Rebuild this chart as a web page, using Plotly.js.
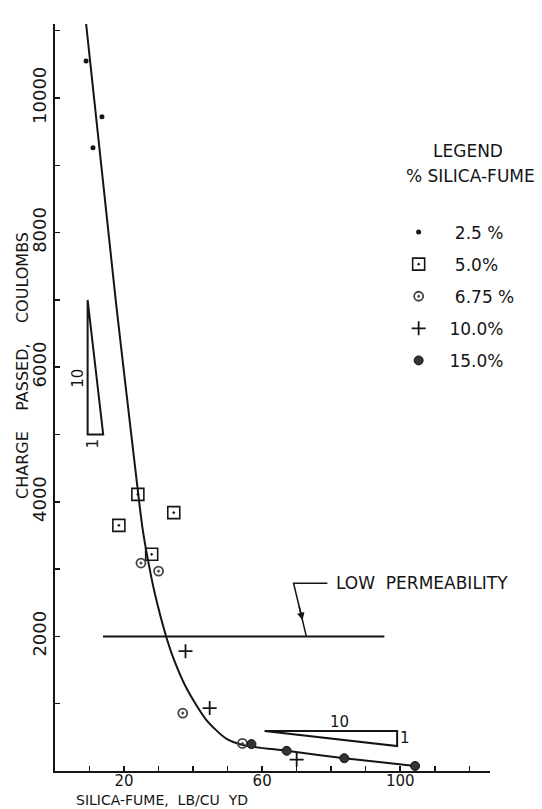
<!DOCTYPE html>
<html>
<head>
<meta charset="utf-8">
<script src="https://cdn.plot.ly/plotly-3.0.1.min.js"></script>
<style>html,body{margin:0;padding:0;background:#fff;}#chart{width:542px;height:809px;}</style>
</head>
<body>
<div id="chart"></div>
<script>
// ---- data ----
const sf25X = [9.0, 13.6, 11.0];
const sf25Y = [10550, 9720, 9260];
const sf50X = [24.0, 18.5, 34.4, 28.0];
const sf50Y = [4110, 3650, 3840, 3220];
const sf675X = [24.9, 30.0, 37.0, 54.3];
const sf675Y = [3090, 2970, 860, 410];
const sf100X = [37.8, 44.8, 70.0];
const sf100Y = [1780, 935, 170];
const sf150X = [56.9, 67.1, 83.8, 104.3];
const sf150Y = [400, 300, 190, 75];

const curveX = [8.7, 17.6, 22.3, 24.1, 25.3, 26.8, 28.9, 32.3, 34.2, 38.1, 43.8, 49.6, 54.4, 67.1, 83.8, 104.3];
const curveY = [11250, 6990, 4910, 4120, 3625, 3170, 2640, 1980, 1690, 1230, 760, 480, 385, 300, 190, 75];

const lowPermX = [13.9, 95.4];
const lowPermY = [2000, 2000];
const leaderX = [78.9, 69.1, 72.8];
const leaderY = [2790, 2790, 2000];

const slopeLeftX = [9.45, 9.45, 13.96, 9.45];
const slopeLeftY = [7000, 5000, 5000, 7000];
const slopeRightX = [60.7, 99.1, 99.1, 60.7];
const slopeRightY = [593, 593, 371, 593];

const yTickVals = [1000, 2000, 3000, 4000, 5000, 6000, 7000, 8000, 9000, 10000, 11000];
const yTickText = ['', '2000', '', '4000', '', '6000', '', '8000', '', '10000', ''];
const xTickVals = [10, 20, 30, 40, 50, 60, 70, 80, 90, 100, 110, 120];
const xTickText = ['', '20', '', '', '', '60', '', '', '', '100', '', ''];

const legendNames = ['\u00a0\u00a0\u00a02.5 %', '\u00a0\u00a0\u00a05.0%', '\u00a0\u00a0\u00a06.75 %', '\u00a0\u00a010.0%', '\u00a0\u00a015.0%'];

const ink = '#151515';
const FONT = 'DejaVu Sans, Arial, sans-serif';

const lineTrace = (x, y, w) => ({x: x, y: y, mode: 'lines', line: {color: ink, width: w}, showlegend: false, hoverinfo: 'skip'});

const traces = [
  Object.assign(lineTrace(curveX, curveY, 2), {line: {color: ink, width: 2, shape: 'spline', smoothing: 0.7}}),
  lineTrace(lowPermX, lowPermY, 2),
  lineTrace(leaderX, leaderY, 1.5),
  lineTrace(slopeLeftX, slopeLeftY, 2),
  lineTrace(slopeRightX, slopeRightY, 2),
  {x: sf25X, y: sf25Y, mode: 'markers', name: legendNames[0], legendgroup: 'a',
   marker: {symbol: 'circle', size: 5, color: ink}},
  {x: sf50X, y: sf50Y, mode: 'markers', name: legendNames[1], legendgroup: 'b',
   marker: {symbol: 'square-open-dot', size: 12, color: ink, line: {width: 1.6, color: ink}}},
  {x: sf675X, y: sf675Y, mode: 'markers', name: legendNames[2], legendgroup: 'c',
   marker: {symbol: 'circle-open-dot', size: 9, color: '#444', line: {width: 1.8, color: '#444'}}},
  {x: sf100X, y: sf100Y, mode: 'markers', name: legendNames[3], legendgroup: 'd',
   marker: {symbol: 'cross-thin-open', size: 10, color: ink, line: {width: 1.8, color: ink}}},
  {x: sf150X, y: sf150Y, mode: 'markers', name: legendNames[4], legendgroup: 'e',
   marker: {symbol: 'circle', size: 9, color: '#333', line: {width: 1, color: ink}}}
];

const layout = {
  width: 542, height: 809,
  margin: {l: 55, r: 52, t: 24, b: 38},
  paper_bgcolor: '#fff', plot_bgcolor: '#fff',
  font: {family: FONT, color: ink, size: 16},
  xaxis: {
    range: [0, 126], showgrid: false, zeroline: false,
    showline: true, linecolor: ink, linewidth: 2,
    ticks: 'inside', ticklen: 5, tickwidth: 1.5, tickcolor: ink,
    tickmode: 'array', tickvals: xTickVals, ticktext: xTickText,
    ticklabelstandoff: -5,
    tickfont: {size: 15, family: FONT, color: ink}
  },
  yaxis: {
    range: [0, 11100], showgrid: false, zeroline: false,
    showline: true, linecolor: ink, linewidth: 2,
    ticks: 'inside', ticklen: 5, tickwidth: 1.5, tickcolor: ink,
    tickmode: 'array', tickvals: yTickVals, ticktext: yTickText,
    tickangle: -90,
    tickfont: {size: 18, family: FONT, color: ink}
  },
  showlegend: true,
  legend: {
    x: 0.79, xanchor: 'left', y: 0.745, yanchor: 'top',
    bgcolor: 'rgba(0,0,0,0)', borderwidth: 0,
    font: {size: 17, family: FONT, color: ink},
    tracegroupgap: 7
  },
  annotations: [
    {xref: 'paper', yref: 'paper', x: 0.949, y: 0.830, xanchor: 'center', yanchor: 'middle',
     text: 'LEGEND', showarrow: false, font: {size: 17, family: FONT, color: ink}},
    {xref: 'paper', yref: 'paper', x: 0.956, y: 0.7965, xanchor: 'center', yanchor: 'middle',
     text: '% SILICA-FUME', showarrow: false, font: {size: 17, family: FONT, color: ink}},
    {xref: 'paper', yref: 'paper', x: -0.076, y: 0.5435, xanchor: 'center', yanchor: 'middle',
     text: 'CHARGE\u00a0\u00a0\u00a0\u00a0PASSED,\u00a0\u00a0\u00a0\u00a0COULOMBS', textangle: -90, showarrow: false,
     font: {size: 16, family: FONT, color: ink}},
    {xref: 'paper', yref: 'paper', x: 0.246, y: -0.039, xanchor: 'center', yanchor: 'middle',
     text: 'SILICA-FUME,\u00a0 LB/CU\u00a0 YD', showarrow: false,
     font: {size: 14, family: FONT, color: ink}},
    {xref: 'x', yref: 'y', x: 80.8, y: 2790, xanchor: 'left', yanchor: 'middle',
     text: 'LOW\u00a0 PERMEABILITY', showarrow: false, font: {size: 17, family: FONT, color: ink}},
    {xref: 'x', yref: 'y', x: 71.7, y: 2240, axref: 'x', ayref: 'y', ax: 70.6, ay: 2474,
     text: '', showarrow: true, arrowhead: 2, arrowsize: 1, arrowwidth: 1.5, arrowcolor: ink},
    {xref: 'x', yref: 'y', x: 6.6, y: 5840, text: '10', textangle: -90, showarrow: false,
     font: {size: 15, family: FONT, color: ink}},
    {xref: 'x', yref: 'y', x: 10.97, y: 4866, text: '1', textangle: -90, showarrow: false,
     font: {size: 15, family: FONT, color: ink}},
    {xref: 'x', yref: 'y', x: 82.4, y: 727, text: '10', showarrow: false,
     font: {size: 15, family: FONT, color: ink}},
    {xref: 'x', yref: 'y', x: 101.4, y: 490, text: '1', showarrow: false,
     font: {size: 15, family: FONT, color: ink}}
  ]
};

Plotly.newPlot('chart', traces, layout, {displayModeBar: false, staticPlot: true});
</script>
</body>
</html>
